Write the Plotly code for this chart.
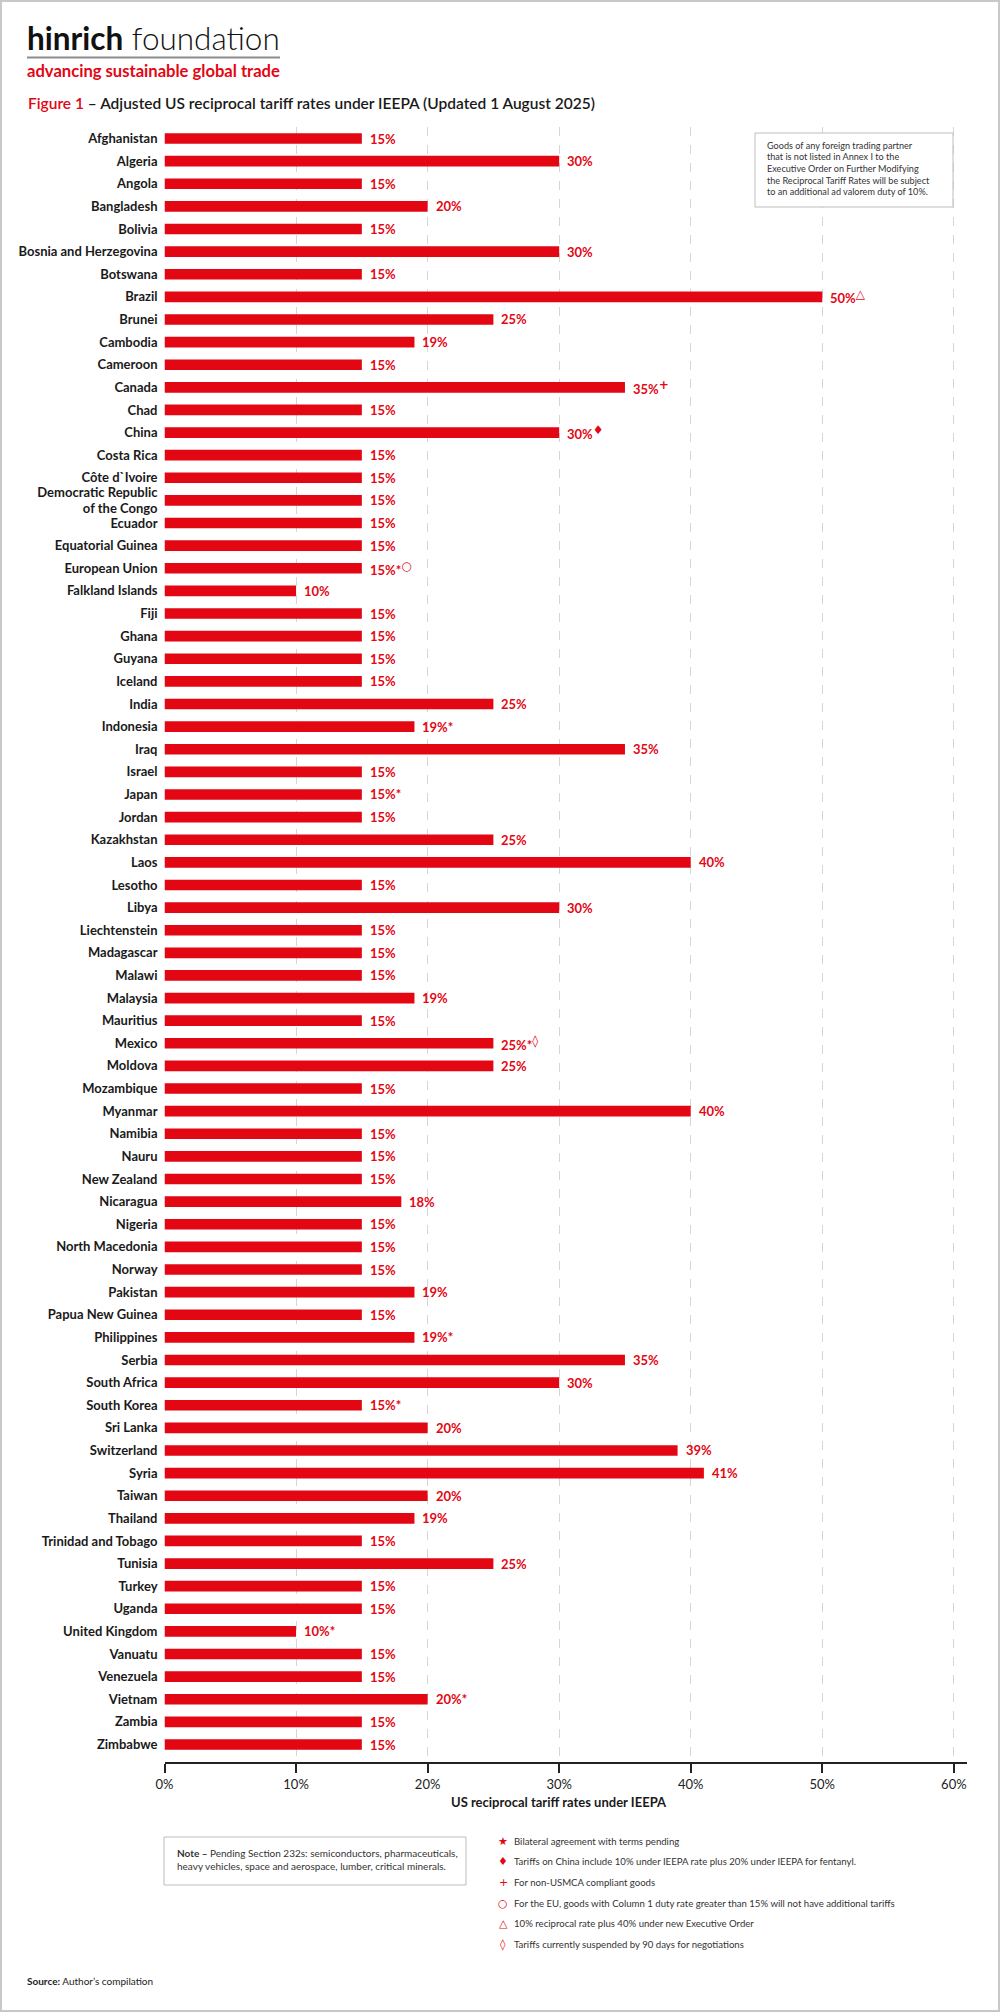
import plotly.graph_objects as go

# ---------------- data ----------------
countries = [
    "Afghanistan", "Algeria", "Angola", "Bangladesh", "Bolivia", "Bosnia and Herzegovina",
    "Botswana", "Brazil", "Brunei", "Cambodia", "Cameroon", "Canada", "Chad", "China",
    "Costa Rica", "Côte d`Ivoire", "Democratic Republic<br>of the Congo", "Ecuador",
    "Equatorial Guinea", "European Union", "Falkland Islands", "Fiji", "Ghana", "Guyana",
    "Iceland", "India", "Indonesia", "Iraq", "Israel", "Japan", "Jordan", "Kazakhstan",
    "Laos", "Lesotho", "Libya", "Liechtenstein", "Madagascar", "Malawi", "Malaysia",
    "Mauritius", "Mexico", "Moldova", "Mozambique", "Myanmar", "Namibia", "Nauru",
    "New Zealand", "Nicaragua", "Nigeria", "North Macedonia", "Norway", "Pakistan",
    "Papua New Guinea", "Philippines", "Serbia", "South Africa", "South Korea", "Sri Lanka",
    "Switzerland", "Syria", "Taiwan", "Thailand", "Trinidad and Tobago", "Tunisia", "Turkey",
    "Uganda", "United Kingdom", "Vanuatu", "Venezuela", "Vietnam", "Zambia", "Zimbabwe",
]
rates = [
    15, 30, 15, 20, 15, 30,
    15, 50, 25, 19, 15, 35, 15, 30,
    15, 15, 15, 15,
    15, 15, 10, 15, 15, 15,
    15, 25, 19, 35, 15, 15, 15, 25,
    40, 15, 30, 15, 15, 15, 19,
    15, 25, 25, 15, 40, 15, 15,
    15, 18, 15, 15, 15, 19,
    15, 19, 35, 30, 15, 20,
    39, 41, 20, 19, 15, 25, 15,
    15, 10, 15, 15, 20, 15, 15,
]
# footnote marks: "*" inline, others superscript
inline_marks = {"European Union": "*", "Indonesia": "*", "Japan": "*", "Mexico": "*",
                "Philippines": "*", "South Korea": "*", "United Kingdom": "*", "Vietnam": "*"}
sup_marks = {"Brazil": "△", "Canada": "+", "China": "♦", "European Union": "○", "Mexico": "◊"}

tick_vals = [0, 10, 20, 30, 40, 50, 60]
tick_text = ["0%", "10%", "20%", "30%", "40%", "50%", "60%"]

box_note_lines = [
    "Goods of any foreign trading partner",
    "that is not listed in Annex I to the",
    "Executive Order on Further Modifying",
    "the Reciprocal Tariff Rates will be subject",
    "to an additional ad valorem duty of 10%.",
]
bottom_note_lines = [
    "<b>Note –</b> Pending Section 232s: semiconductors, pharmaceuticals,",
    "heavy vehicles, space and aerospace, lumber, critical minerals.",
]

legend_symbols = ["★", "♦", "+", "○", "△", "◊"]
legend_texts = [
    "Bilateral agreement with terms pending",
    "Tariffs on China include 10% under IEEPA rate plus 20% under IEEPA for fentanyl.",
    "For non-USMCA compliant goods",
    "For the EU, goods with Column 1 duty rate greater than 15% will not have additional tariffs",
    "10% reciprocal rate plus 40% under new Executive Order",
    "Tariffs currently suspended by 90 days for negotiations",
]

# ---------------- styling helpers ----------------
W, H = 1000, 2012
RED = "#e30613"
DARK = "#1a1a1a"
FONT = "Lato"


def px(x):
    return x / W


def py(y):
    return 1 - y / H


fig = go.Figure()
fig.add_trace(go.Bar(
    x=rates, y=countries, orientation="h",
    marker=dict(color=RED, line=dict(width=0)),
    width=0.47, hoverinfo="skip",
))

annotations = []
for c, r in zip(countries, rates):
    t = f"{r}%" + inline_marks.get(c, "")
    if c in sup_marks:
        t += f"<sup><span style='font-size:12px;font-family:DejaVu Sans'>{sup_marks[c]}</span></sup>"
    annotations.append(dict(
        x=r, y=c, xref="x", yref="y", xanchor="left", yanchor="middle",
        xshift=6, showarrow=False, text=t,
        font=dict(family=FONT, size=13, color=RED, weight=700),
    ))

# header
annotations.append(dict(
    x=px(25), y=py(38), xref="paper", yref="paper", xanchor="left", yanchor="middle",
    showarrow=False, text="<b>hinrich</b> foundation",
    font=dict(family=FONT, size=31.5, color="#111", weight=300),
))
annotations.append(dict(
    x=px(25), y=py(71), xref="paper", yref="paper", xanchor="left", yanchor="middle",
    showarrow=False, text="advancing sustainable global trade",
    font=dict(family=FONT, size=16.6, color=RED, weight=700),
))
annotations.append(dict(
    x=px(26), y=py(103), xref="paper", yref="paper", xanchor="left", yanchor="middle",
    showarrow=False,
    text=f"<span style='color:{RED}'>Figure 1</span> – Adjusted US reciprocal tariff rates under IEEPA (Updated 1 August 2025)",
    font=dict(family=FONT, size=15.5, color=DARK, weight=600),
))

# top-right note box text
for i, line in enumerate(box_note_lines):
    annotations.append(dict(
        x=px(765), y=py(145 + 11.67 * i), xref="paper", yref="paper",
        xanchor="left", yanchor="middle", showarrow=False, text=line,
        font=dict(family=FONT, size=9.1, color="#333"),
    ))

# x-axis title
annotations.append(dict(
    x=px(559), y=py(1802), xref="paper", yref="paper", xanchor="center", yanchor="middle",
    showarrow=False, text="US reciprocal tariff rates under IEEPA",
    font=dict(family=FONT, size=13, color=DARK, weight=700),
))

# bottom note
for i, line in enumerate(bottom_note_lines):
    annotations.append(dict(
        x=px(175), y=py(1853 + 13 * i), xref="paper", yref="paper",
        xanchor="left", yanchor="middle", showarrow=False, text=line,
        font=dict(family=FONT, size=10, color="#333"),
    ))

# legend
for i, (s, t) in enumerate(zip(legend_symbols, legend_texts)):
    yy = 1841 + 20.7 * i
    annotations.append(dict(
        x=px(503), y=py(yy), xref="paper", yref="paper", xanchor="center", yanchor="middle",
        showarrow=False, text=s,
        font=dict(family="DejaVu Sans", size=11, color=RED),
    ))
    annotations.append(dict(
        x=px(512), y=py(yy), xref="paper", yref="paper", xanchor="left", yanchor="middle",
        showarrow=False, text=t,
        font=dict(family=FONT, size=9.6, color="#333"),
    ))

# source
annotations.append(dict(
    x=px(25), y=py(1981), xref="paper", yref="paper", xanchor="left", yanchor="middle",
    showarrow=False, text="<b>Source:</b> Author’s compilation",
    font=dict(family=FONT, size=10, color="#222"),
))

shapes = [
    # frame
    dict(type="rect", xref="paper", yref="paper", x0=px(1), x1=px(999), y0=py(1), y1=py(2011),
         line=dict(color="#c8c8c8", width=2), fillcolor="rgba(0,0,0,0)", layer="above"),
    # logo rule
    dict(type="line", xref="paper", yref="paper", x0=px(27), x1=px(280), y0=py(57.5), y1=py(57.5),
         line=dict(color="#8c8c8c", width=2)),
    # top-right note box
    dict(type="rect", xref="paper", yref="paper", x0=px(755), x1=px(953), y0=py(133), y1=py(207),
         line=dict(color="#bdbdbd", width=1), fillcolor="white", layer="above"),
    # bottom note box
    dict(type="rect", xref="paper", yref="paper", x0=px(164), x1=px(466), y0=py(1837), y1=py(1885),
         line=dict(color="#bdbdbd", width=1), fillcolor="white"),
]

# y range: Afghanistan centre at 138.5px, spacing 22.62px, domain 127..1762 px
y_top_px, y_bot_px = 127, 1762
first_px, step = 138.5, 22.62
r_top = -(first_px - y_top_px) / step
r_bot = (y_bot_px - first_px) / step

fig.update_layout(
    width=W, height=H,
    margin=dict(l=0, r=0, t=0, b=0, autoexpand=False),
    paper_bgcolor="white", plot_bgcolor="white",
    showlegend=False, bargap=0.5,
    annotations=annotations, shapes=shapes,
    xaxis=dict(
        domain=[px(164.5), px(967)], range=[0, 61], automargin=False,
        tickvals=tick_vals, ticktext=tick_text,
        ticks="outside", ticklen=9, tickwidth=1.5, tickcolor="#222",
        showline=True, linecolor="#222", linewidth=2,
        showgrid=True, gridcolor="#d6d6d6", griddash="dash", gridwidth=1,
        zeroline=False,
        tickfont=dict(family=FONT, size=13, color="#222"),
        fixedrange=True,
    ),
    yaxis=dict(
        domain=[py(y_bot_px), py(y_top_px)], automargin=False,
        type="category", categoryorder="array", categoryarray=countries,
        range=[r_bot, r_top],
        showgrid=False, zeroline=False, showline=False, ticks="",
        ticklabelstandoff=6,
        tickfont=dict(family=FONT, size=13, color=DARK, weight=700),
        fixedrange=True,
    ),
)

fig.write_html(
    "out.html",
    config={"displayModeBar": False},
    post_script="document.body.style.margin='0';document.body.style.overflow='hidden';",
)
